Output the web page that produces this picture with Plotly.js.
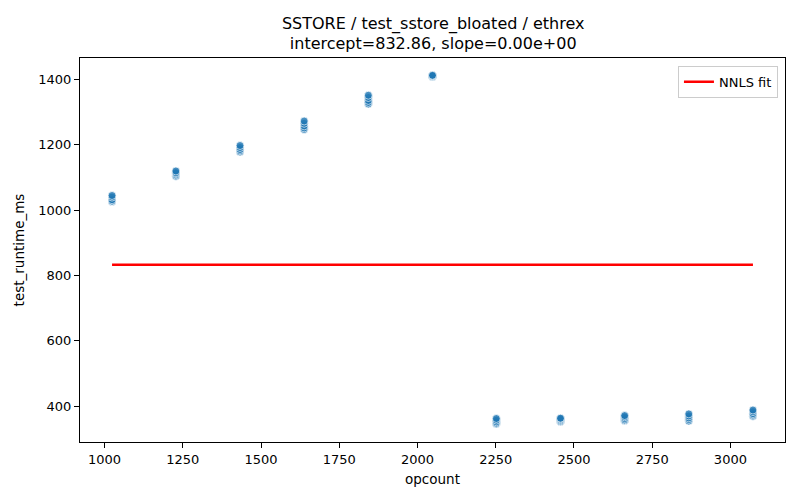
<!DOCTYPE html>
<html>
<head>
<meta charset="utf-8">
<script src="https://cdn.plot.ly/plotly-3.0.1.min.js"></script>
<style>
  body { margin: 0; background: #fff; }
  #chart { width: 800px; height: 500px; }
</style>
</head>
<body>
<div id="chart"></div>
<script>
// opcount per benchmark run, and the measured runtimes (ms) at each opcount
var opcounts = [1024, 1228, 1433, 1638, 1843, 2048, 2252, 2457, 2662, 2867, 3072];
var runtimes = [
  [1026, 1028, 1032, 1040, 1045],
  [1104, 1108, 1112, 1115, 1120],
  [1178, 1182, 1186, 1192, 1198],
  [1247, 1252, 1258, 1266, 1273],
  [1325, 1330, 1336, 1345, 1352],
  [1408, 1410, 1411, 1412, 1413],
  [345, 348, 352, 357, 362],
  [352, 355, 358, 361, 363],
  [355, 358, 362, 367, 371],
  [354, 359, 364, 370, 376],
  [369, 373, 377, 383, 388]
];

// NNLS fit result
var intercept = 832.86;
var slope = 0.0;

// flatten the runs into one x / y list
var xs = [], ys = [];
for (var i = 0; i < opcounts.length; i++) {
  for (var j = 0; j < runtimes[i].length; j++) {
    xs.push(opcounts[i]);
    ys.push(runtimes[i][j]);
  }
}

var xmin = opcounts[0], xmax = opcounts[opcounts.length - 1];

var points = {
  x: xs,
  y: ys,
  mode: 'markers',
  type: 'scatter',
  showlegend: false,
  marker: {
    color: '#1f77b4',
    opacity: 0.8,
    size: 8,
    line: { color: '#ffffff', width: 0.8 }
  }
};

var fit = {
  x: [xmin, xmax],
  y: [intercept + slope * xmin, intercept + slope * xmax],
  mode: 'lines',
  type: 'scatter',
  name: 'NNLS fit',
  line: { color: '#ff0000', width: 2.5 }
};

var font = { family: 'DejaVu Sans, sans-serif', size: 13, color: '#000' };

var layout = {
  width: 800,
  height: 500,
  font: font,
  paper_bgcolor: '#fff',
  plot_bgcolor: '#fff',
  margin: { l: 80, r: 15, t: 58, b: 58 },
  title: {
    text: 'SSTORE / test_sstore_bloated / ethrex<br>intercept=' + intercept.toFixed(2) +
      ', slope=' + slope.toExponential(2).replace('e+0', 'e+00'),
    font: { family: 'DejaVu Sans, sans-serif', size: 16, color: '#000' },
    x: 0.5415,
    xanchor: 'center',
    y: 0.943,
    yanchor: 'top'
  },
  xaxis: {
    range: [921.6, 3174.4],
    tick0: 1000,
    dtick: 250,
    ticks: 'outside',
    ticklen: 5,
    tickcolor: '#000',
    showline: true,
    linecolor: '#000',
    linewidth: 1,
    mirror: true,
    showgrid: false,
    zeroline: false,
    title: { text: 'opcount', font: { size: 13.5 }, standoff: 8 }
  },
  yaxis: {
    range: [290, 1466],
    tick0: 400,
    dtick: 200,
    ticks: 'outside',
    ticklen: 5,
    tickcolor: '#000',
    showline: true,
    linecolor: '#000',
    linewidth: 1,
    mirror: true,
    showgrid: false,
    zeroline: false,
    title: { text: 'test_runtime_ms', font: { size: 13.5 }, standoff: 10 }
  },
  legend: {
    x: 0.99,
    y: 0.98,
    xanchor: 'right',
    yanchor: 'top',
    bgcolor: 'rgba(255,255,255,0.8)',
    bordercolor: '#cccccc',
    borderwidth: 1,
    font: { size: 13 }
  }
};

Plotly.newPlot('chart', [points, fit], layout, { displayModeBar: false });
</script>
</body>
</html>
